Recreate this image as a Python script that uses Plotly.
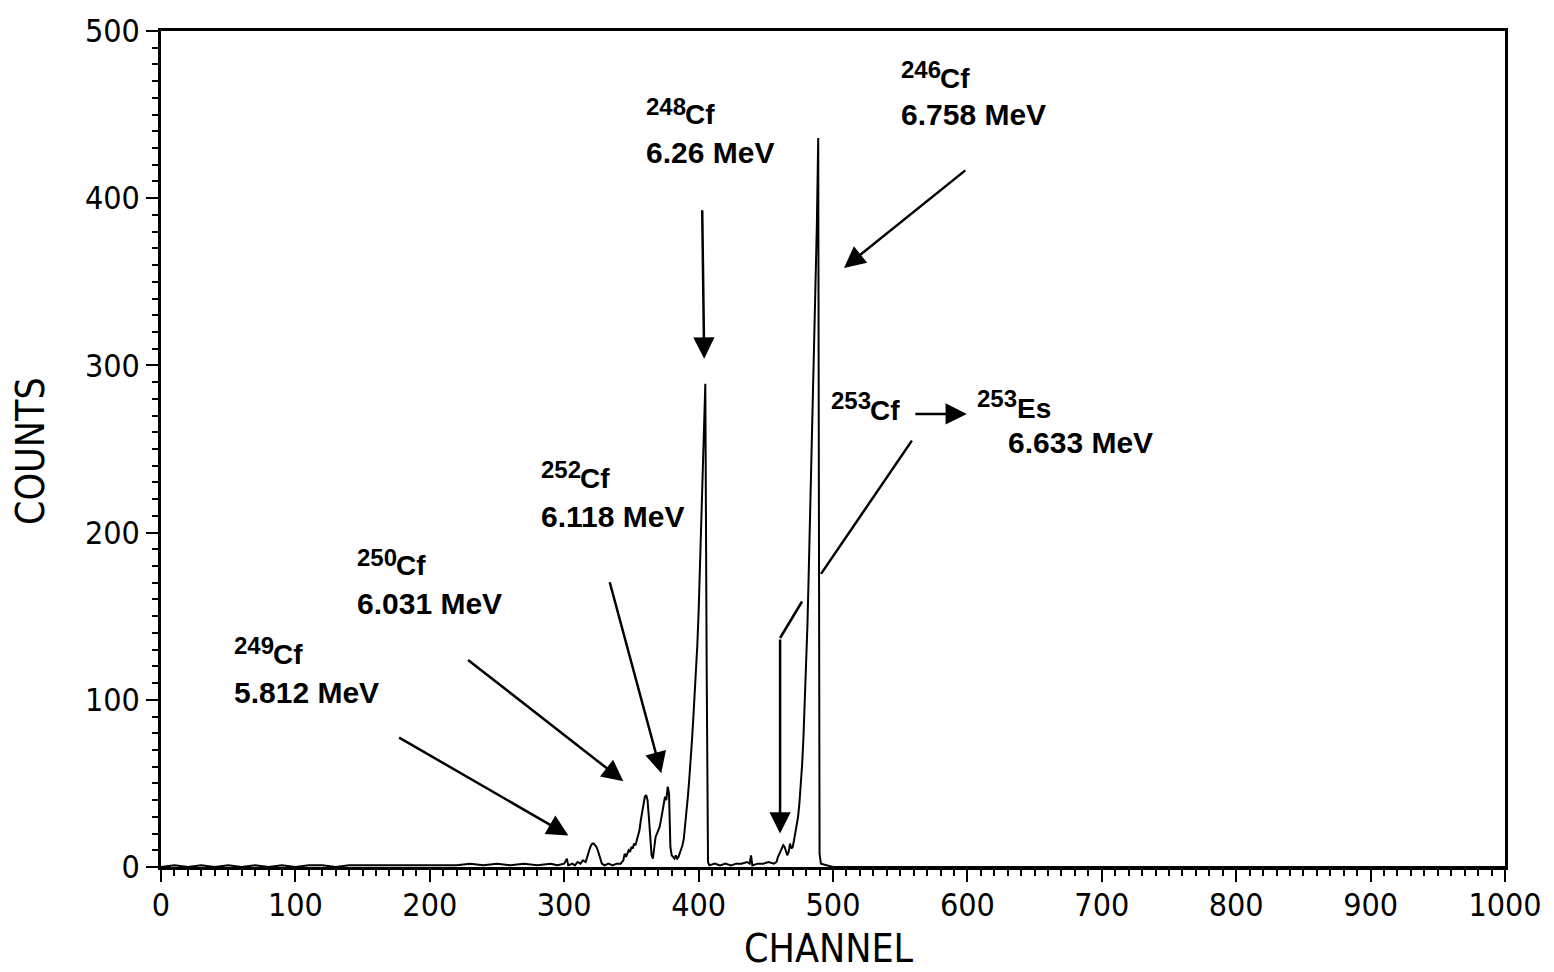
import plotly.graph_objects as go

# ---------------- data ----------------
channels = [0, 10, 20, 30, 40, 50, 60, 70, 80, 90, 100, 110, 120, 130, 140, 150, 160, 170, 180, 190,
            200, 210, 220, 230, 240, 250, 260, 270, 280, 290, 295, 300, 302, 303, 306, 308, 310, 312, 314, 316,
            317, 318, 319, 320, 321, 322, 323, 324, 325, 326, 327, 328, 330, 333, 336, 339, 342, 344, 345, 346,
            347, 348, 349, 350, 351, 352, 353, 354, 355, 356, 357, 358, 359, 360, 361, 362, 363, 364, 365, 366,
            367, 368, 369, 370, 371, 372, 373, 374, 375, 376, 377, 378, 379, 380, 381, 382, 383, 384, 385, 386,
            387, 388, 389, 390, 391, 392, 393, 394, 395, 396, 397, 398, 399, 400, 401, 402, 403, 404, 405, 406,
            407, 408, 412, 416, 420, 424, 428, 432, 436, 438, 439, 440, 444, 448, 452, 456, 458, 459, 460, 461,
            462, 463, 464, 465, 466, 467, 468, 469, 470, 471, 472, 473, 474, 475, 476, 477, 478, 479, 480, 481,
            482, 483, 484, 485, 486, 487, 488, 489, 490, 491, 495, 500, 550, 600, 650, 700, 750, 800, 850, 900,
            950, 1000]
counts = [0, 1, 0, 1, 0, 1, 0, 1, 0, 1, 0, 1, 1, 0, 1, 1, 1, 1, 1, 1,
          1, 1, 1, 2, 1, 2, 1, 2, 1, 2, 1, 2, 5, 1, 2, 1, 3, 2, 4, 3,
          6, 8, 11, 13, 14, 14, 13, 12, 10, 7, 4, 2, 1, 2, 1, 2, 2, 4, 8, 6,
          8, 10, 9, 12, 11, 14, 13, 16, 18, 22, 28, 32, 38, 42, 43, 40, 30, 16, 7, 5,
          12, 18, 20, 22, 24, 28, 32, 38, 42, 40, 48, 44, 12, 7, 6, 5, 7, 5, 6, 8,
          10, 13, 17, 24, 32, 42, 52, 62, 75, 88, 101, 114, 132, 152, 178, 208, 238, 266, 289, 120,
          3, 1, 2, 1, 2, 1, 2, 2, 3, 2, 7, 1, 2, 2, 3, 2, 3, 6, 8, 10,
          11, 13, 12, 9, 7, 9, 14, 11, 12, 16, 20, 25, 30, 38, 47, 61, 77, 98, 120, 145,
          178, 210, 243, 278, 322, 352, 384, 436, 8, 2, 1, 0, 0, 0, 0, 0, 0, 0, 0, 0,
          0, 0]

x_ticks = list(range(0, 1001, 100))
y_ticks = list(range(0, 501, 100))

# peak labels
masses = ["249", "250", "252", "248", "246", "253", "253"]
elements = ["Cf", "Cf", "Cf", "Cf", "Cf", "Cf", "Es"]
energies = ["5.812 MeV", "6.031 MeV", "6.118 MeV", "6.26 MeV", "6.758 MeV", "", "6.633 MeV"]

# ---------------- layout helpers (pixel -> data) ----------------
L, R, T, B = 161, 47, 20, 105
W, H = 1554, 972
PW, PH = W - L - R, H - T - B


def px2x(px):
    return (px - L) / PW * 1000


def py2y(py):
    return (T + PH - py) / PH * 500


tick_font = dict(family="Liberation Sans Narrow, DejaVu Sans Condensed, Arial Narrow, sans-serif",
                 size=32, color="black")
lab_family = "Liberation Sans, Arial, Helvetica, sans-serif"
num_font = dict(family=lab_family, size=24, color="black", weight="bold")
el_font = dict(family=lab_family, size=28, color="black", weight="bold")
en_font = dict(family=lab_family, size=30, color="black", weight="bold")

fig = go.Figure()
fig.add_trace(go.Scatter(x=channels, y=counts, mode="lines",
                         line=dict(color="black", width=2), cliponaxis=False,
                         showlegend=False, hoverinfo="skip"))

annotations = []


def text_ann(px, py, text, font):
    return dict(x=px2x(px), y=py2y(py), xref="x", yref="y", xanchor="left", yanchor="middle",
                showarrow=False, font=font, text=text)


# label placement: (left px of number, centre y of number, left px of element, centre y of element,
#                   left px of energy, centre y of energy)
label_pos = [(232, 643, 271, 652, 232, 690),
             (355, 553, 394, 562, 355, 600),
             (540, 464, 579, 473, 540, 512),
             (645, 96, 684, 105, 645, 143),
             (900, 59, 939, 68, 900, 105),
             (830, 394, 869, 404, 0, 0),
             (976, 392, 1016, 402, 1007, 437)]
for m, el, en, (nx, ny, ex, ey, gx, gy) in zip(masses, elements, energies, label_pos):
    annotations.append(text_ann(nx, ny, m, num_font))
    annotations.append(text_ann(ex, ey, el, el_font))
    if en:
        annotations.append(text_ann(gx, gy, en, en_font))

# arrows: (tail px, head px)
arrows = [((703, 200), (705, 352)),
          ((968, 160), (845, 260)),
          ((610, 577), (662, 772)),
          ((467, 656), (624, 780)),
          ((398, 735), (569, 835)),
          ((915, 408), (968, 408)),
          ((781, 635), (781, 833))]
for (tx, ty), (hx, hy) in arrows:
    annotations.append(dict(
        x=px2x(hx), y=py2y(hy), ax=px2x(tx), ay=py2y(ty), xref="x", yref="y",
        axref="x", ayref="y", text="", showarrow=True, arrowhead=2, arrowsize=1.7,
        arrowwidth=2.5, arrowcolor="black"))

# axis titles
axis_title_font = dict(family="Liberation Sans Narrow, DejaVu Sans Condensed, Arial Narrow, sans-serif",
                       size=39, color="black")
annotations.append(dict(x=0.5, y=0, xref="paper", yref="paper", yanchor="middle", xanchor="center",
                        yshift=-(948 - (T + PH)), xshift=-4, showarrow=False, text="CHANNEL",
                        font=axis_title_font))
annotations.append(dict(x=0, y=0.5, xref="paper", yref="paper", yanchor="middle", xanchor="center",
                        xshift=-(L - 30), yshift=-2, showarrow=False, text="COUNTS", textangle=-90,
                        font=axis_title_font))

shapes = [
    dict(type="line", xref="x", yref="y", x0=px2x(913), y0=py2y(435), x1=px2x(822), y1=py2y(570),
         line=dict(color="black", width=2.5)),
    dict(type="line", xref="x", yref="y", x0=px2x(803), y0=py2y(598), x1=px2x(781), y1=py2y(635),
         line=dict(color="black", width=2.5)),
]

fig.update_layout(
    width=W, height=H,
    margin=dict(l=L, r=R, t=T, b=B, pad=0),
    paper_bgcolor="white", plot_bgcolor="white",
    annotations=annotations, shapes=shapes,
    xaxis=dict(range=[0, 1000], tickvals=x_ticks, ticktext=[str(v) for v in x_ticks],
               ticks="outside", ticklen=12, tickwidth=2, tickcolor="black",
               minor=dict(dtick=10, ticks="outside", ticklen=6, tickwidth=1.5, tickcolor="black"),
               showline=True, linewidth=2.5, linecolor="black", mirror=True,
               showgrid=False, zeroline=False, tickfont=tick_font, ticklabelstandoff=-4),
    yaxis=dict(range=[0, 500], tickvals=y_ticks, ticktext=[str(v) for v in y_ticks],
               ticks="outside", ticklen=12, tickwidth=2, tickcolor="black",
               minor=dict(dtick=10, ticks="outside", ticklen=6, tickwidth=1.5, tickcolor="black"),
               showline=True, linewidth=2.5, linecolor="black", mirror=True,
               showgrid=False, zeroline=False, tickfont=tick_font, ticklabelstandoff=0),
)

fig.write_html("out.html")
